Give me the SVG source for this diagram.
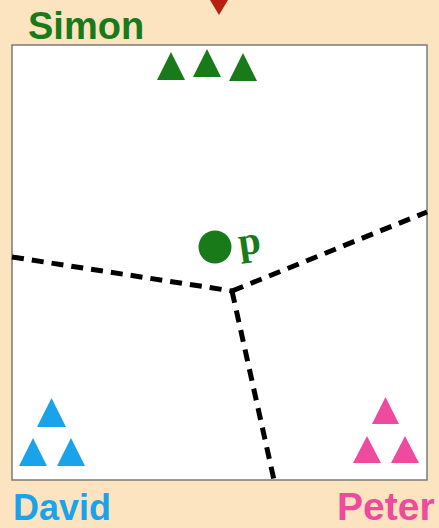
<svg xmlns="http://www.w3.org/2000/svg" width="439" height="528" viewBox="0 0 439 528">
<style>
.lbl{font-family:"Liberation Sans",Arial,sans-serif;font-weight:bold}
.div{fill:none;stroke:#000;stroke-width:5;stroke-dasharray:12 8}
</style>
<rect x="0" y="0" width="439" height="528" fill="#FDE4C0"/>
<g id="region">
<rect x="12" y="45" width="415" height="435" fill="#FFFFFF" stroke="#7a7a7a" stroke-width="1.5"/>
</g>
<g id="marker-top">
<polygon points="210,0 228,0 219,15" fill="#B5200F"/>
</g>
<g id="connectors">
<polyline class="div" points="12,257 232,291"/>
<polyline class="div" points="232,291 427,212"/>
<polyline class="div" points="232,291 274,480"/>
</g>
<g id="simon">
<text class="lbl" x="28" y="39" font-size="38" fill="#197A1A">Simon</text>
<polygon points="157,80 171,52 185,80" fill="#197A1A"/>
<polygon points="193,77 207,49 221,77" fill="#197A1A"/>
<polygon points="229,81 243,53 257,81" fill="#197A1A"/>
</g>
<g id="david">
<text class="lbl" x="13" y="520" font-size="36" fill="#1AA3EA">David</text>
<polygon points="37,427 51.5,398 66,427" fill="#1AA3EA"/>
<polygon points="19,466 33,438 47,466" fill="#1AA3EA"/>
<polygon points="57,466 71,438 85,466" fill="#1AA3EA"/>
</g>
<g id="peter">
<text class="lbl" x="337" y="520" font-size="39" fill="#EE4B9F">Peter</text>
<polygon points="372,424 385.5,397 399,424" fill="#EE4B9F"/>
<polygon points="353,463 367,436 381,463" fill="#EE4B9F"/>
<polygon points="391,463 405,436 419,463" fill="#EE4B9F"/>
</g>
<g id="p">
<circle cx="215" cy="247" r="16.5" fill="#197A1A"/>
<text x="239" y="254" fill="#197A1A" font-family="'Liberation Serif','Times New Roman',serif" font-weight="bold" font-size="40" transform="rotate(-8 250 248)">p</text>
</g>
</svg>
